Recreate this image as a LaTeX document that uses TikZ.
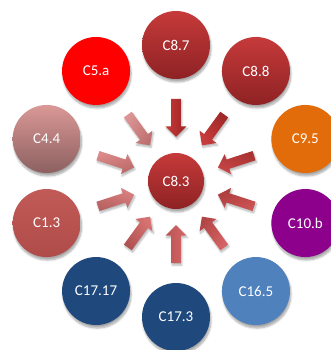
\documentclass[tikz,border=0pt]{standalone}
\usepackage{fontspec}
\setmainfont{Carlito}
\usetikzlibrary{shapes.arrows,shadows.blur,calc}
\definecolor{redT}{RGB}{198,58,58}
\definecolor{redB}{RGB}{142,34,36}
\definecolor{pinkT}{RGB}{218,152,150}
\definecolor{pinkB}{RGB}{140,96,96}
\definecolor{muted}{RGB}{190,82,79}
\definecolor{orng}{RGB}{227,108,10}
\definecolor{purp}{RGB}{140,0,140}
\definecolor{lblue}{RGB}{79,129,189}
\definecolor{dblue}{RGB}{31,73,125}
\begin{document}
\begin{tikzpicture}[x=1pt,y=1pt,
  ball/.style={circle, minimum size=68pt, inner sep=0pt, text=white,
    font=\fontsize{15}{18}\selectfont,
    blur shadow={shadow xshift=1pt, shadow yshift=-3pt, shadow blur steps=8, shadow opacity=35}},
  hub/.style={ball, minimum size=56pt},
  blockarrow/.style={single arrow, minimum height=38pt, minimum width=20.5pt,
    inner xsep=0pt, inner ysep=4.65pt, single arrow head extend=5.6pt,
    single arrow tip angle=90, draw=none,
    blur shadow={shadow xshift=1pt, shadow yshift=-2pt, shadow blur steps=6, shadow opacity=30}},
]
\useasboundingbox (0,0) rectangle (330,-350);
\coordinate (O) at (176,-181);
% center
\node[hub, top color=redT, bottom color=redB] (c83) at (O) {C8.3};
% outer circles
\node[ball, top color=redT, bottom color=redB] (c87) at ($(O)+(90:136)$) {C8.7};
\node[ball, top color=redT, bottom color=redB] (c88) at ($(O)+(54:136)$) {C8.8};
\node[ball, fill=orng] (c95) at ($(O)+(18:136)$) {C9.5};
\node[ball, fill=purp] (c10b) at ($(O)+(-18:136)$) {C10.b};
\node[ball, fill=lblue] (c165) at ($(O)+(-54:136)$) {C16.5};
\node[ball, fill=dblue] (c173) at ($(O)+(-90:136)$) {C17.3};
\node[ball, fill=dblue] (c1717) at ($(O)+(-126:136)$) {C17.17};
\node[ball, top color=muted!95!white, bottom color=muted!92!black] (c13) at ($(O)+(-162:136)$) {C1.3};
\node[ball, top color=pinkT, bottom color=pinkB] (c44) at ($(O)+(162:136)$) {C4.4};
\node[ball, fill=red] (c5a) at ($(O)+(126:136)$) {C5.a};
% arrows
\foreach \ang/\nm/\ct/\cb in {
  90/a87/{200,56,56}/{155,36,38},
  54/a88/{200,60,60}/{160,40,40},
  18/a95/{200,70,70}/{168,50,50},
  -18/a10b/{205,84,84}/{172,60,60},
  -54/a165/{215,100,100}/{178,70,70},
  -90/a173/{215,102,102}/{184,84,84},
  -126/a1717/{216,115,115}/{176,82,82},
  -162/a13/{218,128,128}/{182,96,96},
  162/a44/{220,138,138}/{186,104,104},
  126/a5a/{220,148,148}/{190,112,112}}{
  \definecolor{ct}{RGB}{\ct}\definecolor{cb}{RGB}{\cb}
  \pgfmathsetmacro{\rot}{\ang+180}
  \node[blockarrow, rotate=\rot, top color=ct, bottom color=cb, shading angle=-\rot]
    (\nm) at ($(O)+(\ang:65.5)$) {};
}
\end{tikzpicture}
\end{document}
